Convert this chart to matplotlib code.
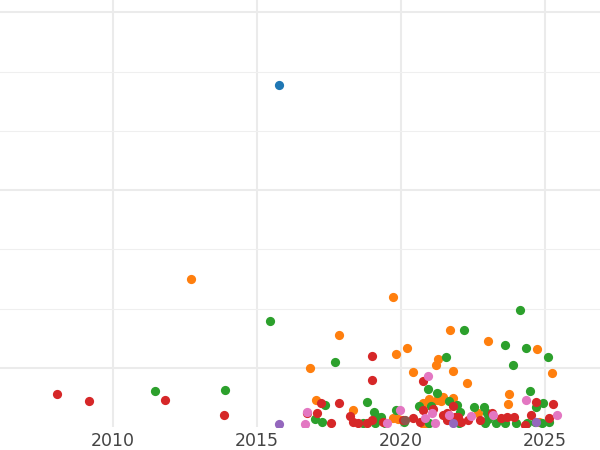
import matplotlib
matplotlib.use("Agg")
import matplotlib.pyplot as plt
from matplotlib.ticker import FixedLocator

# values (x = year, y = value, gridlines every 10)
blue_x = [2015.76]
blue_y = [57.8]

orange_x = [2012.71, 2019.71, 2017.84, 2021.69, 2023.02, 2024.73, 2016.84, 2019.82,
            2020.21, 2021.27, 2021.23, 2025.23, 2020.43, 2021.81, 2022.29, 2023.76,
            2023.72, 2017.04, 2018.33, 2020.77, 2021.24, 2021.47, 2021.82, 2022.68,
            2020.97, 2021.40, 2019.72, 2019.90, 2020.80, 2024.78, 2021.05]
orange_y = [25.0, 21.9, 15.5, 16.4, 14.6, 13.1, 10.0, 12.3,
            13.3, 11.4, 10.4, 9.2, 9.3, 9.4, 7.4, 5.6,
            3.8, 4.5, 2.9, 4.1, 4.6, 5.1, 4.9, 2.3,
            4.7, 4.4, 1.6, 1.4, 0.4, 0.9, 3.7]

green_x = [2015.45, 2024.13, 2022.20, 2023.60, 2024.34, 2025.09, 2017.70, 2021.56,
           2023.90, 2011.46, 2013.89, 2020.95, 2021.24, 2024.49, 2024.93, 2024.68,
           2017.37, 2018.81, 2019.07, 2019.17, 2017.03, 2017.27, 2019.82, 2020.63,
           2021.06, 2021.68, 2022.05, 2022.55, 2022.88, 2022.99, 2023.30, 2021.93,
           2019.29, 2020.11, 2018.69, 2019.10, 2019.45, 2020.97, 2022.01, 2023.61,
           2024.01, 2024.36, 2025.14, 2024.90, 2022.92, 2023.02, 2024.66]
green_y = [17.9, 19.8, 16.3, 13.9, 13.4, 11.9, 11.0, 11.9,
           10.5, 6.1, 6.3, 6.4, 5.8, 6.1, 4.1, 3.3,
           3.7, 4.2, 2.5, 1.7, 1.3, 0.9, 2.8, 3.5,
           3.5, 4.4, 2.6, 3.4, 3.3, 2.4, 0.7, 3.7,
           1.7, 0.9, 0.6, 0.6, 0.6, 0.7, 0.6, 0.6,
           0.6, 0.6, 0.9, 0.6, 0.6, 1.4, 0.9]

red_x = [2008.06, 2009.17, 2011.81, 2013.85, 2018.98, 2018.98, 2020.76, 2024.70,
         2025.28, 2017.21, 2017.85, 2017.07, 2017.56, 2018.23, 2021.82, 2020.77,
         2021.10, 2021.59, 2020.43, 2023.15, 2023.46, 2023.69, 2023.92, 2024.51,
         2016.73, 2018.35, 2018.52, 2018.81, 2019.38, 2018.98, 2020.08, 2020.66,
         2021.47, 2021.59, 2021.97, 2022.10, 2022.33, 2022.74, 2021.88, 2025.15,
         2024.31]
red_y = [5.6, 4.4, 4.6, 2.0, 12.0, 8.0, 7.7, 4.3,
         3.9, 4.0, 4.0, 2.3, 0.7, 1.9, 3.5, 2.8,
         3.0, 2.3, 1.6, 2.3, 1.6, 1.7, 1.7, 2.0,
         2.3, 0.9, 0.6, 0.6, 0.9, 1.2, 1.2, 0.9,
         2.0, 1.2, 1.7, 0.9, 1.2, 1.2, 1.7, 1.5,
         0.3]

purple_x = [2015.77, 2021.82, 2024.68]
purple_y = [0.5, 0.7, 0.9]

brown_x = [2020.14]
brown_y = [1.2]

pink_x = [2020.94, 2024.34, 2025.43, 2016.73, 2016.68, 2019.97, 2023.21, 2022.44,
          2021.68, 2021.08, 2020.83, 2021.19, 2019.50]
pink_y = [8.6, 4.6, 2.0, 2.5, 0.5, 2.9, 2.1, 1.9,
          2.0, 2.3, 1.6, 0.7, 0.6]

fig = plt.figure(figsize=(6, 4.5), dpi=100)
ax = fig.add_axes([0, 23 / 450, 1, 427 / 450])

groups = [(blue_x, blue_y, "tab:blue"), (orange_x, orange_y, "tab:orange"),
          (green_x, green_y, "tab:green"), (red_x, red_y, "tab:red"),
          (purple_x, purple_y, "tab:purple"), (brown_x, brown_y, "tab:brown"),
          (pink_x, pink_y, "tab:pink")]
for i, (x, y, c) in enumerate(groups):
    ax.scatter(x, y, s=44, color=c, linewidths=0, zorder=3 + i)

ax.set_xlim(2006.08, 2026.91)
ax.set_ylim(0, 72.1)

ax.xaxis.set_major_locator(FixedLocator([2010, 2015, 2020, 2025]))
ax.yaxis.set_major_locator(FixedLocator([10, 40, 70]))
ax.yaxis.set_minor_locator(FixedLocator([20, 30, 50, 60]))
ax.grid(True, which="major", color="#ebebeb", linewidth=1.5, zorder=0)
ax.grid(True, which="minor", axis="y", color="#efefef", linewidth=0.8, zorder=0)
ax.set_axisbelow(True)
ax.tick_params(axis="x", length=0, pad=3.5, labelsize=12.5, labelcolor="#444444")
ax.tick_params(axis="y", which="both", length=0, labelleft=False)
for s in ax.spines.values():
    s.set_visible(False)

fig.savefig("out.png", dpi=100)
